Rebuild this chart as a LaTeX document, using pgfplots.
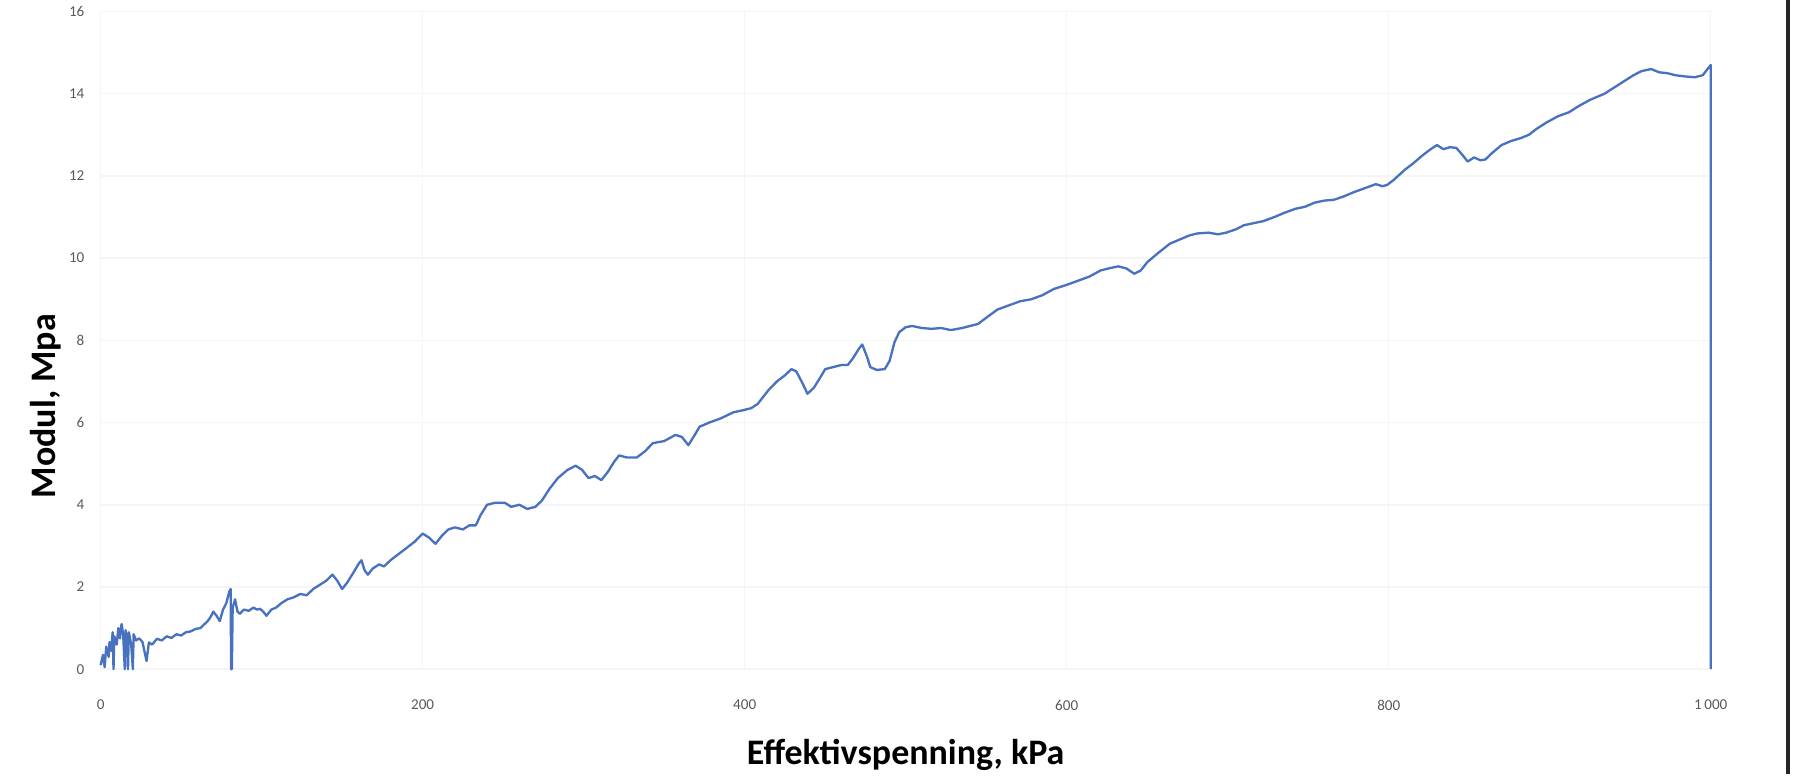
\documentclass[border=0pt]{standalone}
\usepackage{fontspec}
\setmainfont{Carlito}
\usepackage{pgfplots}
\pgfplotsset{compat=1.18}
\usetikzlibrary{calc}
\definecolor{exblue}{RGB}{72,114,192}
\definecolor{ticktxt}{RGB}{89,89,89}
\definecolor{titletxt}{RGB}{64,64,64}
\begin{document}
\begin{tikzpicture}
\begin{axis}[
    scale only axis,
    width=448pt, height=183pt,
    xmin=0, xmax=1000,
    ymin=0, ymax=16,
    xtick={0,200,400,600,800,1000},
    xticklabels={0,200,400,600,800,1\,000},
    ytick={0,2,...,16},
    axis line style={draw=none},
    major tick length=0pt,
    grid=major,
    grid style={black!4, line width=0.4pt},
    /pgf/number format/assume math mode=true,
    tick label style={font=\fontsize{4.2}{5}\selectfont, text=ticktxt},
    xticklabel style={yshift=-5pt},
    yticklabel style={xshift=-1pt},
    xlabel={\textbf{Effektivspenning, kPa}},
    ylabel={\textbf{Modul, Mpa}},
    label style={font=\fontsize{9}{11}\selectfont, text=titletxt},
    every axis x label/.style={at={(axis description cs:0.5,-0.131)}, anchor=center},
    every axis y label/.style={at={(axis description cs:-0.034,0.40)}, rotate=90, anchor=center},
    clip=false,
]
\addplot[color=exblue, line width=0.65pt, line join=round] coordinates {
(0,0.10) (1.5,0.35) (2.5,0.05) (3.5,0.55) (5,0.30) (5.5,0.66) (6.5,0.45) (7.5,0.90)
(8,0.00) (8.5,0.80) (10,0.60) (11,1.00) (12,0.75) (13,1.10) (14,0.85) (15,0.00)
(15.5,0.95) (16.5,0.70) (17,0.00) (17.5,0.90) (19,0.60) (20,0.00) (20.5,0.85) (22,0.70)
(24,0.75) (26,0.66) (28.5,0.20) (30,0.65) (32,0.60) (35,0.74) (38,0.70) (41,0.80)
(44,0.76) (47,0.85) (50,0.82) (53,0.90) (56,0.92) (59,0.98) (62,1.00) (64,1.08)
(66,1.15) (68,1.25) (70,1.40) (72,1.30) (74,1.17) (76,1.45) (78,1.60) (80,1.90)
(80.8,1.95) (81,0.00) (81.5,0.00) (82,1.50) (83.5,1.70) (85,1.40) (86.5,1.35) (89,1.45)
(92,1.42) (95,1.50) (97,1.45) (99,1.47) (101,1.40) (103,1.30) (106,1.45) (109,1.50)
(112,1.60) (116,1.70) (120,1.75) (124,1.83) (128,1.80) (132,1.95) (136,2.05) (140,2.15)
(144,2.30) (147,2.15) (150,1.95) (153,2.10) (157,2.35) (160,2.55) (162,2.65) (164,2.40)
(166,2.30) (169,2.45) (173,2.55) (176,2.50) (180,2.65) (185,2.80) (190,2.95) (195,3.10)
(200,3.30) (204,3.20) (208,3.05) (212,3.25) (216,3.40) (220,3.45) (225,3.40) (229,3.50)
(233,3.50) (236,3.75) (240,4.00) (245,4.05) (251,4.05) (255,3.95) (260,4.00) (265,3.90)
(270,3.95) (274,4.10) (279,4.40) (284,4.65) (290,4.85) (295,4.95) (299,4.85) (303,4.65)
(307,4.70) (311,4.60) (315,4.80) (319,5.05) (322,5.20) (327,5.15) (333,5.15) (338,5.30)
(343,5.50) (350,5.55) (357,5.70) (361,5.65) (365,5.45) (369,5.70) (372,5.90) (378,6.00)
(385,6.10) (393,6.25) (399,6.30) (404,6.35) (408,6.45) (412,6.65) (415,6.80) (420,7.00)
(425,7.15) (429,7.30) (432,7.25) (436,6.95) (439,6.70) (443,6.85) (447,7.10) (450,7.30)
(455,7.35) (460,7.40) (464,7.40) (467,7.55) (471,7.80) (473,7.90) (476,7.60) (478,7.35)
(482,7.28) (487,7.30) (490,7.50) (493,7.95) (496,8.20) (500,8.32) (504,8.35) (510,8.30)
(516,8.28) (522,8.30) (528,8.25) (535,8.30) (540,8.35) (545,8.40) (550,8.55) (557,8.75)
(564,8.85) (571,8.95) (578,9.00) (585,9.10) (592,9.25) (600,9.35) (607,9.45) (614,9.55)
(621,9.70) (626,9.75) (632,9.80) (637,9.75) (642,9.62) (646,9.70) (650,9.90) (656,10.10)
(664,10.35) (670,10.45) (676,10.55) (681,10.60) (688,10.62) (694,10.58) (699,10.62) (705,10.70)
(710,10.80) (716,10.85) (722,10.90) (729,11.00) (735,11.10) (742,11.20) (748,11.25) (754,11.35)
(760,11.40) (766,11.42) (772,11.50) (778,11.60) (785,11.70) (792,11.80) (796,11.75) (799,11.78)
(803,11.90) (810,12.15) (815,12.30) (821,12.50) (826,12.65) (830,12.75) (834,12.65) (838,12.70)
(842,12.68) (846,12.50) (849,12.35) (853,12.45) (857,12.38) (860,12.40) (864,12.55) (870,12.75)
(876,12.85) (882,12.92) (887,13.00) (892,13.15) (898,13.30) (905,13.45) (912,13.55) (918,13.70)
(925,13.85) (934,14.00) (940,14.15) (946,14.30) (952,14.45) (957,14.55) (963,14.60) (968,14.52)
(973,14.50) (978,14.45) (984,14.42) (990,14.40) (995,14.45) (998,14.60) (1000,14.70) (1000,0)
};
% dark edge of the scanned page on the right
\draw[black!85, line width=1.3pt] (rel axis cs:1.048,-0.16) -- (rel axis cs:1.048,1.017);
\end{axis}
\pgfresetboundingbox
\path[use as bounding box] ($(current axis.south west)+(-28pt,-30.6pt)$) rectangle ($(current axis.north east)+(24pt,3.2pt)$);
\end{tikzpicture}
\end{document}
